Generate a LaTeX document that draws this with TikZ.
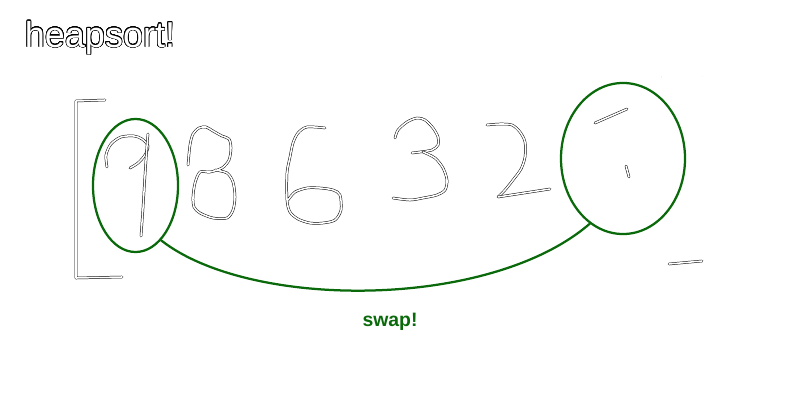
\documentclass[tikz,border=0pt]{standalone}
\usepackage{fontspec}
\setmainfont{Liberation Sans}
\usepackage{xcolor}
\usepackage[copies]{contour}
\usetikzlibrary{shapes.geometric}
\definecolor{swapgreen}{RGB}{10,105,10}
\contourlength{0.4pt}
\contournumber{32}
\tikzset{
    chalk/.style={draw=black, line width=0.35pt, double=white, double distance=1.1pt, line cap=round, line join=round}, % white strokes with thin black edges
    faint/.style={chalk, draw=black!12}, % nearly invisible strokes
    hoop/.style={ellipse, draw=swapgreen, line width=1.6pt, inner sep=0pt}, % green rings
    tie/.style={draw=swapgreen, line width=1.6pt, line cap=round}, % green swap line
}

\begin{document}
\begin{tikzpicture}[x=0.025cm, y=-0.025cm]
        \useasboundingbox (0,0) rectangle (800,400);

        % Titolo
        \node (title) at (100,38) {\fontsize{25.6}{30}\selectfont\contour{black}{\textcolor{white}{heapsort!}}};

        % Parentesi
        \draw[chalk] (105,100) -- (76,101) -- (76,278) -- (122,277);
        \draw[faint] (662,77) -- (702,77) -- (702,262);
        \draw[chalk] (669,264) -- (702,261);

        % Cifra 9
        \draw[chalk] plot[smooth] coordinates {(107,167) (106,155) (111,144) (121,137) (134,136) (142,139) (148,146) (145,155) (138,163) (130,168)};
        \draw[chalk] plot[smooth] coordinates {(148,134) (147,146) (145,175) (143,208) (141,236)};

        % Cifra 8
        \draw[chalk] plot[smooth] coordinates {(188,165) (190,145) (193,134) (199,128) (206,127) (213,131) (222,136) (229,139) (231,148) (229,160) (222,168) (210,172) (200,172) (195,183) (193,197) (194,207) (200,213) (213,218) (227,218) (233,210) (235,197) (233,182) (227,173) (215,170)};

        % Cifra 6
        \draw[chalk] plot[smooth] coordinates {(325,128) (307,127) (298,133) (293,143) (290,157) (287,173) (287,200) (290,212) (298,219) (310,223) (323,223) (335,220) (341,210) (340,195) (333,190) (320,188) (307,188) (295,192) (288,200)};

        % Cifra 3
        \draw[chalk] plot[smooth] coordinates {(395,138) (398,130) (407,122) (417,118) (425,120) (433,128) (438,137) (438,145) (432,150) (420,152) (412,153)};
        \draw[chalk] plot[smooth] coordinates {(423,152) (435,158) (443,168) (447,180) (445,190) (437,195) (423,198) (410,200) (393,198)};

        % Cifra 2
        \draw[chalk] plot[smooth] coordinates {(487,125) (500,124) (512,125) (520,132) (525,142) (525,157) (521,169) (513,180) (505,190) (498,197)};
        \draw[chalk] (498,197) -- (550,189);

        % Cifra 1
        \draw[chalk] (595,123) -- (627,109);
        \draw[chalk] (626,166) -- (629,177);

        % Cerchi verdi
        \node[hoop, minimum width=2.125cm, minimum height=3.325cm] (nine) at (135.5,185.5) {};
        \node[hoop, minimum width=3.1cm, minimum height=3.775cm] (one) at (623,158.5) {};

        % Linea di scambio
        \draw[tie] (nine.-65) .. controls (250,310) and (490,310) .. (one.-117);
        \node[text=swapgreen, font=\fontsize{13.8}{16}\selectfont\bfseries] (swaplbl) at (390,322) {swap!};
\end{tikzpicture}
\end{document}
